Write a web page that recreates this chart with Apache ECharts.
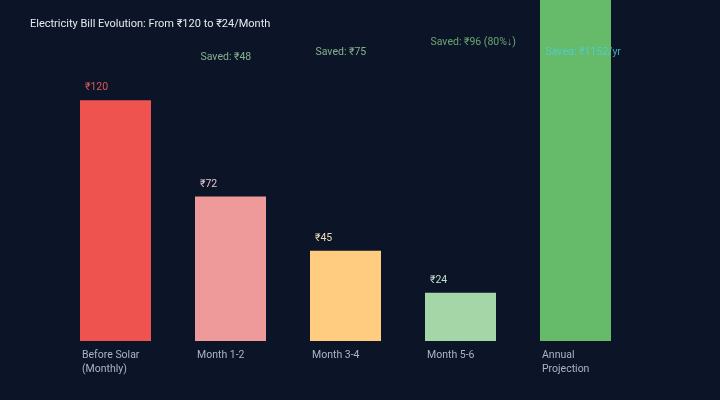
<!DOCTYPE html>
<html>
<head>
<meta charset="utf-8">
<script src="https://cdn.jsdelivr.net/npm/echarts@6/dist/echarts.min.js"></script>
<style>
  html, body { margin: 0; padding: 0; background: #0b1527; }
  #chart { width: 720px; height: 400px; }
</style>
</head>
<body>
<div id="chart"></div>
<script>
// data
var categories = ['Before Solar\n(Monthly)', 'Month 1-2', 'Month 3-4', 'Month 5-6', 'Annual\nProjection']
var billValues = [120, 72, 45, 24, 288]
var billLabels = ['₹120', '₹72', '₹45', '₹24', '']
var barColors = ['#ef5350', '#ef9a9a', '#ffcc80', '#a5d6a7', '#66bb6a']
var valueLabelColors = ['#d9595a', '#e3c3c9', '#eddcb9', '#c4dfca', '#ffffff']
var savedLabels = ['', 'Saved: ₹48', 'Saved: ₹75', 'Saved: ₹96 (80%↓)', 'Saved: ₹1152/yr']
var savedLabelY = [null, 142, 144.5, 149.5, 144.5]
var savedColors = ['#81c784', '#a5d6a7', '#a5d6a7', '#81c784', '#4dd0e1']

var chart = echarts.init(document.getElementById('chart'))

var option = {
  backgroundColor: '#0b1527',
  textStyle: { fontFamily: 'Roboto' },
  title: {
    text: 'Electricity Bill Evolution: From ₹120 to ₹24/Month',
    left: 25,
    top: 14,
    textStyle: { color: '#e6e9ef', fontSize: 11, fontWeight: 'normal', fontFamily: 'Roboto' }
  },
  grid: { left: 58, right: 87, top: 40, bottom: 59 },
  xAxis: {
    type: 'category',
    data: categories,
    axisLine: { show: false },
    axisTick: { show: false },
    axisLabel: {
      color: '#aab4c3',
      fontSize: 10.5,
      margin: 7,
      formatter: function (v) {
        return v.split('\n').map(function (s) { return '{a|' + s + '}' }).join('\n')
      },
      rich: { a: { width: 67, align: 'left', lineHeight: 14, color: '#aab4c3', fontSize: 10.5 } }
    }
  },
  yAxis: {
    type: 'value',
    min: 0,
    max: 150,
    show: false,
    splitLine: { show: false }
  },
  series: [{
    type: 'bar',
    barWidth: 71,
    clip: false,
    data: billValues.map(function (v, i) {
      return {
        value: v,
        itemStyle: { color: barColors[i] },
        label: {
          show: billLabels[i] !== '',
          formatter: billLabels[i],
          position: [5, -18],
          color: valueLabelColors[i],
          fontSize: 10.5
        }
      }
    })
  }, {
    type: 'scatter',
    symbolSize: 0,
    silent: true,
    data: savedLabelY.map(function (v, i) {
      return {
        value: [i, v],
        label: {
          show: savedLabels[i] !== '',
          formatter: savedLabels[i],
          position: 'inside',
          align: 'left',
          offset: [-30, 1],
          color: savedColors[i],
          fontSize: 10.5
        }
      }
    })
  }]
}

chart.setOption(option)
</script>
</body>
</html>
